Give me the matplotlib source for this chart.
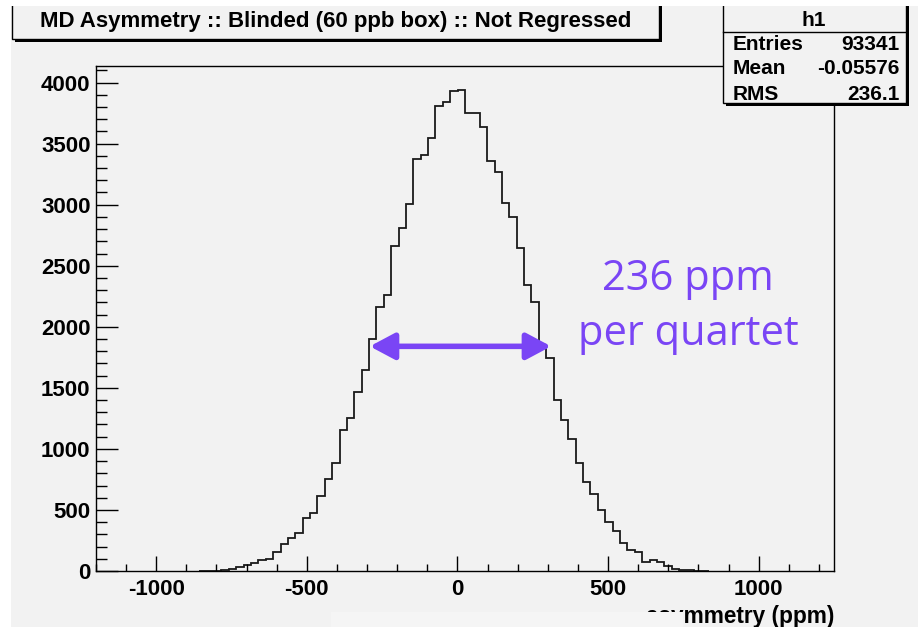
import matplotlib
matplotlib.use('Agg')
import matplotlib.pyplot as plt
from matplotlib.patches import Rectangle, FancyArrowPatch
from matplotlib.ticker import MultipleLocator
import numpy as np

plt.rcParams['axes.unicode_minus'] = False

# ---------------- DATA ----------------
x_lo, x_hi, n_bins = -1200, 1250, 100     # histogram binning (24.5 ppm bins)
first_bin = 14                            # index of first bin listed in counts
counts = [1, 2, 4, 9, 16, 33, 46, 68, 87, 101,
          153, 221, 267, 308, 431, 474, 616, 750, 881, 1153,
          1252, 1462, 1644, 1903, 2162, 2263, 2665, 2808, 3008, 3378,
          3411, 3545, 3806, 3838, 3929, 3937, 3752, 3752, 3635, 3355,
          3270, 3016, 2898, 2642, 2339, 2203, 1835, 1748, 1404, 1235,
          1085, 886, 728, 630, 499, 398, 330, 226, 175, 153,
          76, 87, 76, 42, 14, 12, 6, 4, 2]

title = 'MD Asymmetry :: Blinded (60 ppb box) :: Not Regressed'
hist_name = 'h1'
stats_labels = ['Entries', 'Mean', 'RMS']
stats_values = ['93341', '-0.05576', '236.1']
note_lines = ['236 ppm', 'per quartet']

# ---------------- STYLE ----------------
W, H = 918, 627
BG = '#f2f2f2'
PURPLE = '#7a45f5'
ROOT_FONT = 'Liberation Sans'

fig = plt.figure(figsize=(W / 100, H / 100), dpi=100, facecolor=BG)


def px_rect(x0, y0, x1, y1, **kw):
    # rectangle given in top-down pixel coords
    r = Rectangle((x0 / W, 1 - y1 / H), (x1 - x0) / W, (y1 - y0) / H,
                  transform=fig.transFigure, **kw)
    fig.add_artist(r)
    return r


def px_text(x, y, s, **kw):
    return fig.text(x / W, 1 - y / H, s, family=ROOT_FONT, fontweight='bold', **kw)


ax = fig.add_axes([96 / W, 1 - 571 / H, (834 - 96) / W, (571 - 65.5) / H])
ax.set_facecolor(BG)

edges = np.linspace(x_lo, x_hi, n_bins + 1)
sub_edges = edges[first_bin:first_bin + len(counts) + 1]
ax.stairs(counts, sub_edges, color='#1a1a1a', lw=1.3, baseline=0)

ax.set_xlim(x_lo, x_hi)
ax.set_ylim(0, 4140)
ax.xaxis.set_major_locator(MultipleLocator(500))
ax.xaxis.set_minor_locator(MultipleLocator(100))
ax.yaxis.set_major_locator(MultipleLocator(500))
ax.yaxis.set_minor_locator(MultipleLocator(100))
ax.tick_params(which='both', direction='in', top=False, right=False, width=1, colors='black')
ax.tick_params(axis='x', which='major', length=15 * 0.72, pad=6)
ax.tick_params(axis='x', which='minor', length=7 * 0.72)
ax.tick_params(axis='y', which='major', length=22 * 0.72, pad=4)
ax.tick_params(axis='y', which='minor', length=11 * 0.72)
for lab in ax.get_xticklabels() + ax.get_yticklabels():
    lab.set_family(ROOT_FONT)
    lab.set_fontweight('bold')
    lab.set_fontsize(16)
for sp in ax.spines.values():
    sp.set_linewidth(1)
    sp.set_color('black')

ax.set_xlabel('asymmetry (ppm)', loc='right', family=ROOT_FONT, fontweight='bold',
              fontsize=16.3, labelpad=3)

# width annotation
arrow = FancyArrowPatch((-291, 1840), (311, 1840),
                        arrowstyle='<|-|>,head_length=0.6,head_width=0.32',
                        mutation_scale=25, lw=4, color=PURPLE,
                        shrinkA=0, shrinkB=0, zorder=5)
ax.add_patch(arrow)
ax.text(765, 2300, note_lines[0], ha='center', va='baseline', fontsize=30,
        family='Open Sans', color=PURPLE)
ax.text(765, 1850, note_lines[1], ha='center', va='baseline', fontsize=30,
        family='Open Sans', color=PURPLE)

# title box (ROOT style, with shadow)
px_rect(15, -2, 662, 42, facecolor='black', edgecolor='none', zorder=3)
px_rect(12, -5, 659, 39, facecolor=BG, edgecolor='black', lw=1, zorder=3)
px_text(336, 21, title, ha='center', va='center', fontsize=16, zorder=4)

# stats box
px_rect(726, -2, 909, 106, facecolor='black', edgecolor='none', zorder=3)
px_rect(723, -5, 906, 103, facecolor=BG, edgecolor='black', lw=1, zorder=3)
fig.add_artist(plt.Line2D([723 / W, 906 / W], [1 - 32 / H, 1 - 32 / H],
                          transform=fig.transFigure, color='black', lw=1, zorder=4))
px_text(814, 20, hist_name, ha='center', va='center', fontsize=15, zorder=4)
for i, (lab, val) in enumerate(zip(stats_labels, stats_values)):
    y = 44 + 25 * i
    px_text(733, y, lab, ha='left', va='center', fontsize=15, zorder=4)
    px_text(900, y, val, ha='right', va='center', fontsize=15, zorder=4)

# cropped screenshot edges
px_rect(0, 0, W, 6, facecolor='white', edgecolor='none', zorder=6)
px_rect(0, 0, 11, H, facecolor='white', edgecolor='none', zorder=6)
# slide overlay hiding the start of the axis title
px_rect(331, 612, 683, H, facecolor='#f5f5f5', edgecolor='none', zorder=5)

fig.savefig('out.png', dpi=100, facecolor=fig.get_facecolor())
